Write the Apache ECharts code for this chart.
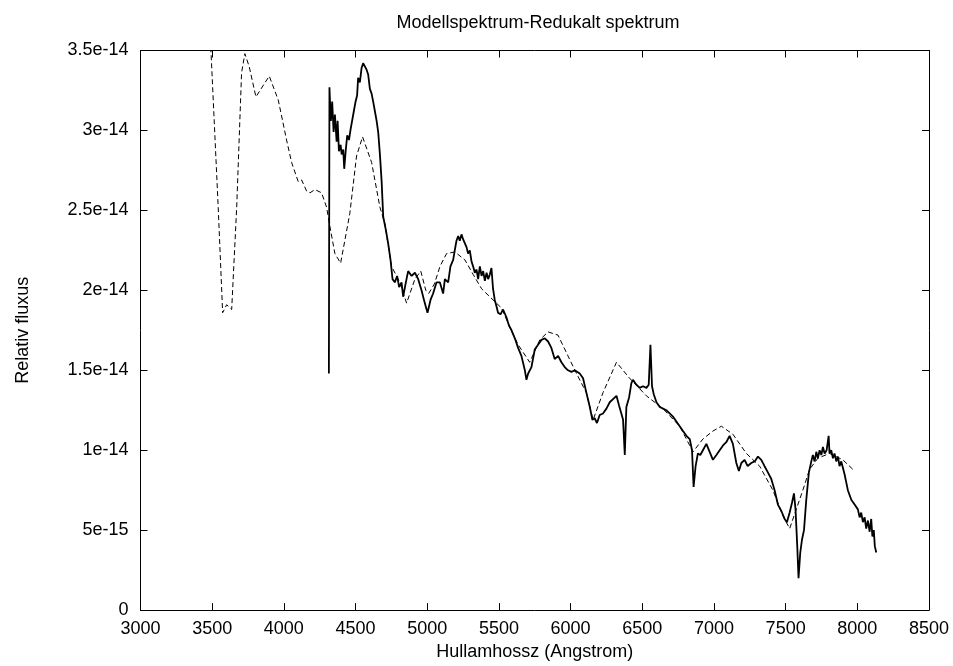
<!DOCTYPE html>
<html>
<head>
<meta charset="utf-8">
<script src="https://cdn.jsdelivr.net/npm/echarts@6/dist/echarts.min.js"></script>
<style>
  html, body { margin: 0; padding: 0; background: #fff; }
  #chart { width: 953px; height: 666px; }
</style>
</head>
<body>
<div id="chart"></div>
<script>
// flux values in units of 1e-14
var yTickLabels = ["0", "5e-15", "1e-14", "1.5e-14", "2e-14", "2.5e-14", "3e-14", "3.5e-14"];
var xTicks = [3000, 3500, 4000, 4500, 5000, 5500, 6000, 6500, 7000, 7500, 8000, 8500];

// model spectrum (dashed)
var modelWave = [3480, 3542, 3573, 3601, 3636, 3671, 3705, 3728, 3758, 3805, 3898, 3961,
  4019, 4054, 4100, 4124, 4159, 4182, 4217, 4263, 4298, 4321, 4356, 4396, 4460, 4507,
  4549, 4612, 4670, 4704, 4751, 4809, 4856, 4914, 4955, 4990, 5010, 5050, 5089, 5135,
  5193, 5263, 5320, 5379, 5459, 5518, 5576, 5634, 5715, 5785, 5843, 5912, 5971, 6041,
  6110, 6157, 6226, 6320, 6412, 6529, 6644, 6761, 6854, 6923, 6993, 7052, 7132, 7226,
  7319, 7411, 7481, 7528, 7574, 7620, 7667, 7725, 7806, 7899, 7969];
var modelFlux = [3.72, 2.52, 1.86, 1.91, 1.88, 2.52, 3.36, 3.48, 3.40, 3.21, 3.34, 3.19,
  2.94, 2.80, 2.68, 2.69, 2.62, 2.61, 2.63, 2.61, 2.52, 2.40, 2.23, 2.17, 2.48, 2.84,
  2.96, 2.80, 2.52, 2.42, 2.15, 2.05, 1.92, 2.07, 2.12, 2.00, 1.98, 2.04, 2.15, 2.23,
  2.24, 2.19, 2.10, 2.01, 1.94, 1.89, 1.77, 1.66, 1.55, 1.69, 1.74, 1.72, 1.61, 1.48,
  1.36, 1.19, 1.36, 1.55, 1.45, 1.34, 1.26, 1.15, 0.99, 1.07, 1.12, 1.15, 1.10, 0.98,
  0.90, 0.75, 0.59, 0.51, 0.63, 0.75, 0.88, 0.95, 0.98, 0.94, 0.88];

// reduced observed spectrum (solid)
var obsWave = [4314, 4318, 4321, 4328, 4337, 4347, 4356, 4368, 4375, 4384, 4396, 4403,
  4414, 4421, 4431, 4442, 4454, 4466, 4477, 4488, 4500, 4511, 4518, 4530, 4542, 4553,
  4565, 4577, 4588, 4600, 4612, 4623, 4635, 4647, 4658, 4670, 4682, 4693, 4711, 4728,
  4744, 4758, 4774, 4790, 4804, 4821, 4832, 4851, 4867, 4891, 4914, 4937, 4960, 4983,
  5002, 5023, 5041, 5065, 5088, 5111, 5123, 5146, 5162, 5181, 5192, 5204, 5216, 5227,
  5239, 5250, 5262, 5274, 5285, 5297, 5309, 5320, 5332, 5344, 5355, 5367, 5379, 5390,
  5402, 5414, 5425, 5437, 5448, 5459, 5471, 5483, 5494, 5511, 5529, 5553, 5570, 5588,
  5611, 5634, 5657, 5681, 5692, 5704, 5727, 5750, 5773, 5797, 5820, 5843, 5866, 5889,
  5913, 5936, 5959, 5982, 6006, 6029, 6064, 6087, 6110, 6134, 6152, 6168, 6184, 6203,
  6226, 6250, 6273, 6296, 6320, 6338, 6354, 6366, 6378, 6389, 6408, 6424, 6435, 6459,
  6482, 6505, 6529, 6545, 6557, 6568, 6580, 6599, 6622, 6645, 6668, 6691, 6714, 6738,
  6761, 6784, 6808, 6831, 6847, 6858, 6872, 6888, 6905, 6923, 6947, 6970, 6993, 7017,
  7040, 7063, 7086, 7109, 7132, 7156, 7174, 7191, 7214, 7235, 7260, 7284, 7307, 7330,
  7353, 7377, 7400, 7423, 7446, 7470, 7493, 7509, 7528, 7544, 7558, 7569, 7581, 7590,
  7602, 7614, 7628, 7644, 7662, 7679, 7690, 7702, 7714, 7725, 7737, 7749, 7760, 7772,
  7786, 7800, 7806, 7818, 7830, 7841, 7853, 7865, 7876, 7888, 7911, 7934, 7958, 7981,
  8004, 8016, 8027, 8039, 8051, 8062, 8074, 8086, 8097, 8105, 8115, 8122, 8132];
var obsFlux = [1.48, 3.27, 3.20, 3.06, 3.18, 2.99, 3.10, 2.93, 3.06, 2.87, 2.91, 2.85,
  2.88, 2.76, 2.87, 2.97, 2.94, 3.01, 3.00, 3.12, 3.18, 3.22, 3.33, 3.30, 3.39, 3.42,
  3.43, 3.38, 3.35, 3.26, 3.23, 3.18, 3.12, 3.06, 2.99, 2.85, 2.68, 2.46, 2.38, 2.29,
  2.19, 2.07, 2.05, 2.09, 2.02, 2.05, 1.96, 2.05, 2.12, 2.09, 2.11, 2.07, 2.00, 1.92,
  1.86, 1.94, 1.98, 2.05, 2.05, 1.98, 2.07, 2.05, 2.15, 2.19, 2.25, 2.31, 2.34, 2.31,
  2.35, 2.32, 2.33, 2.27, 2.23, 2.25, 2.18, 2.15, 2.11, 2.13, 2.07, 2.15, 2.09, 2.12,
  2.06, 2.11, 2.07, 2.10, 2.14, 2.01, 1.94, 1.90, 1.86, 1.85, 1.88, 1.83, 1.78, 1.75,
  1.70, 1.64, 1.59, 1.50, 1.44, 1.48, 1.52, 1.63, 1.66, 1.69, 1.70, 1.68, 1.64, 1.57,
  1.59, 1.55, 1.52, 1.50, 1.49, 1.50, 1.48, 1.45, 1.36, 1.27, 1.19, 1.20, 1.17, 1.22,
  1.23, 1.26, 1.30, 1.32, 1.34, 1.28, 1.23, 1.19, 0.97, 1.27, 1.33, 1.42, 1.44, 1.41,
  1.39, 1.40, 1.39, 1.41, 1.66, 1.40, 1.35, 1.30, 1.27, 1.26, 1.25, 1.23, 1.21, 1.18,
  1.15, 1.12, 1.09, 1.07, 1.00, 0.77, 0.90, 0.98, 0.97, 1.00, 1.04, 0.99, 0.94, 0.97,
  1.00, 1.03, 1.05, 1.09, 1.04, 0.92, 0.87, 0.92, 0.94, 0.90, 0.92, 0.93, 0.96, 0.94,
  0.90, 0.86, 0.82, 0.75, 0.66, 0.62, 0.57, 0.55, 0.61, 0.67, 0.73, 0.63, 0.40, 0.20,
  0.36, 0.44, 0.50, 0.69, 0.86, 0.93, 0.97, 0.93, 0.99, 0.95, 1.00, 0.97, 1.02, 0.98,
  1.00, 1.09, 0.98, 1.00, 0.95, 0.98, 0.93, 0.96, 0.90, 0.93, 0.85, 0.75, 0.69, 0.66,
  0.63, 0.58, 0.61, 0.55, 0.58, 0.51, 0.56, 0.49, 0.57, 0.46, 0.50, 0.40, 0.36];

function pairs(xs, ys) {
  return xs.map(function (x, i) { return [x, ys[i]]; });
}

var font = "Liberation Sans, Arial, Helvetica, sans-serif";
var fs = 18;
var chart = echarts.init(document.getElementById("chart"));

var baseX = {
  type: "value",
  min: 3000,
  max: 8500,
  interval: 500,
  axisLine: { show: true, onZero: false, lineStyle: { color: "#000", width: 1 } },
  axisTick: { show: true, inside: true, length: 7, lineStyle: { color: "#000" } },
  splitLine: { show: false }
};
var baseY = {
  type: "value",
  min: 0,
  max: 3.5,
  interval: 0.5,
  axisLine: { show: true, onZero: false, lineStyle: { color: "#000", width: 1 } },
  axisTick: { show: true, inside: true, length: 7, lineStyle: { color: "#000" } },
  splitLine: { show: false }
};

var option = {
  animation: false,
  backgroundColor: "#fff",
  title: {
    text: "Modellspektrum-Redukalt spektrum",
    left: 533,
    top: 9,
    textAlign: "center",
    textStyle: { fontFamily: font, fontSize: fs, fontWeight: "normal", color: "#000" }
  },
  grid: { left: 140.5, right: 24, top: 50.5, bottom: 55.5, containLabel: false },
  xAxis: [
    Object.assign({}, baseX, {
      position: "bottom",
      name: "Hullamhossz (Angstrom)",
      nameLocation: "middle",
      nameGap: 32,
      nameTextStyle: { fontFamily: font, fontSize: fs, color: "#000" },
      axisLabel: {
        fontFamily: font, fontSize: fs, color: "#000", margin: 10,
        formatter: function (v) { return xTicks.indexOf(v) >= 0 ? String(v) : ""; }
      }
    }),
    Object.assign({}, baseX, { position: "top", axisLabel: { show: false } })
  ],
  yAxis: [
    Object.assign({}, baseY, {
      position: "left",
      name: "Relativ fluxus",
      nameLocation: "middle",
      nameGap: 108,
      nameRotate: 90,
      nameTextStyle: { fontFamily: font, fontSize: fs, color: "#000" },
      axisLabel: {
        fontFamily: font, fontSize: fs, color: "#000", margin: 12,
        formatter: function (v) { return yTickLabels[Math.round(v / 0.5)]; }
      }
    }),
    Object.assign({}, baseY, { position: "right", axisLabel: { show: false } })
  ],
  series: [
    {
      name: "Redukalt spektrum",
      type: "line",
      data: pairs(obsWave, obsFlux),
      showSymbol: false,
      clip: true,
      lineStyle: { color: "#000", width: 1.8 }
    },
    {
      name: "Modellspektrum",
      type: "line",
      data: pairs(modelWave, modelFlux),
      showSymbol: false,
      clip: true,
      lineStyle: { color: "#000", width: 1, type: [5, 3] }
    }
  ]
};

chart.setOption(option);
</script>
</body>
</html>
